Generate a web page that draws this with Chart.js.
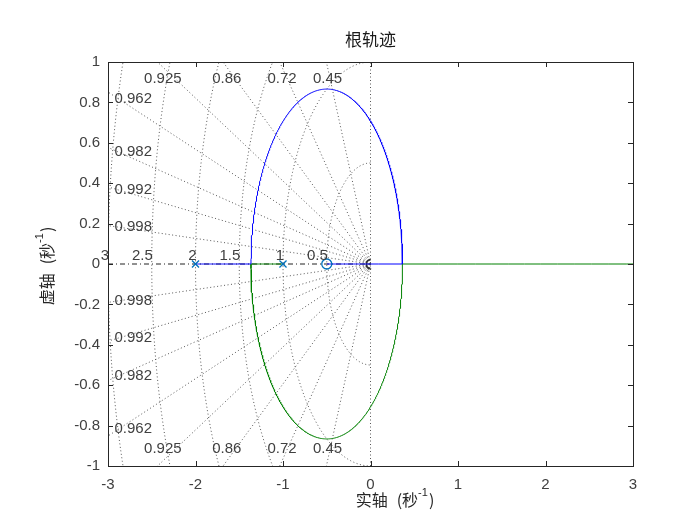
<!DOCTYPE html>
<html>
<head>
<meta charset="utf-8">
<script src="https://cdn.jsdelivr.net/npm/chart.js@4/dist/chart.umd.min.js"></script>
<style>
  html, body { margin: 0; padding: 0; background: #fff; }
  #wrap { width: 700px; height: 525px; }
</style>
</head>
<body>
<div id="wrap"><canvas id="rlocus"></canvas></div>
<script>
// open-loop system (poles x, zero o)
const poles = [-2, -1];
const zerosList = [-0.5];
// sgrid values
const zetaValues = [0.45, 0.72, 0.86, 0.925, 0.962, 0.982, 0.992, 0.998];
const wnValues = [0.5, 1, 1.5, 2, 2.5, 3];
// axis ticks
const xTicks = [-3, -2, -1, 0, 1, 2, 3];
const yTicks = [-1, -0.8, -0.6, -0.4, -0.2, 0, 0.2, 0.4, 0.6, 0.8, 1];

const numFont = "'Liberation Sans', Arial, sans-serif";
const cjkFont = "'Noto Sans CJK SC', 'Liberation Sans', sans-serif";
const textColor = "#404040";
const gridColor = "rgba(70,70,70,0.9)";

// closed loop (s-p1)(s-p2) + K(s-z) = 0, K negative (as in the picture)
const p1 = poles[0], p2 = poles[1], z1 = zerosList[0];
function rootsAt(K) {
  const b = -(p1 + p2) + K;
  const c = p1 * p2 - K * z1;
  const D = b * b - 4 * c;
  if (D >= 0) {
    const s = Math.sqrt(D);
    return { real: true, hi: (-b + s) / 2, lo: (-b - s) / 2 };
  }
  return { real: false, re: -b / 2, im: Math.sqrt(-D) / 2 };
}
// gains where the branches meet the real axis
const qb = -2 * (p1 + p2) + 4 * z1, qc = (p1 + p2) * (p1 + p2) - 4 * p1 * p2;
const kA = (-qb + Math.sqrt(qb * qb - 4 * qc)) / 2;   // breakaway
const kB = (-qb - Math.sqrt(qb * qb - 4 * qc)) / 2;   // break-in

const blueBranch = [], greenBranch = [];
for (let i = 0; i <= 60; i++) {
  const r = rootsAt(kA * i / 60);
  if (r.real) { blueBranch.push({ x: r.lo, y: 0 }); greenBranch.push({ x: r.hi, y: 0 }); }
}
for (let i = 0; i <= 600; i++) {
  const t = (1 - Math.cos(Math.PI * i / 600)) / 2;
  const r = rootsAt(kA + (kB - kA) * t);
  if (r.real) {
    const m = (r.hi + r.lo) / 2;
    blueBranch.push({ x: m, y: 0 }); greenBranch.push({ x: m, y: 0 });
  } else {
    blueBranch.push({ x: r.re, y: r.im }); greenBranch.push({ x: r.re, y: -r.im });
  }
}
for (let i = 1; i <= 200; i++) {
  const r = rootsAt(kB * Math.pow(1000, i / 200));
  if (r.real) { blueBranch.push({ x: r.lo, y: 0 }); greenBranch.push({ x: r.hi, y: 0 }); }
}

// sgrid lines
const dotted = { showLine: true, borderColor: gridColor, borderWidth: 1, borderDash: [1, 2.5], pointRadius: 0, order: 10 };
const gridSets = [];
zetaValues.forEach(z => {
  const w = Math.sqrt(1 - z * z);
  [1, -1].forEach(sg => gridSets.push(Object.assign({
    data: [{ x: 0, y: 0 }, { x: -z * 10, y: sg * w * 10 }]
  }, dotted)));
});
wnValues.forEach(wn => {
  const pts = [];
  for (let i = 0; i <= 180; i++) {
    const a = Math.PI / 2 + Math.PI * i / 180;
    pts.push({ x: wn * Math.cos(a), y: wn * Math.sin(a) });
  }
  gridSets.push(Object.assign({ data: pts }, dotted));
});
// imaginary axis (zeta = 0)
gridSets.push(Object.assign({ data: [{ x: 0, y: -1 }, { x: 0, y: 1 }] }, dotted));
// real axis (zeta = 1), dash-dot
gridSets.push({
  data: [{ x: -3, y: 0 }, { x: 0, y: 0 }], showLine: true, borderColor: "#222",
  borderWidth: 1, borderDash: [5, 3, 1, 3], pointRadius: 0, order: 9
});
// small dark arc at origin
const tinyArc = [];
for (let i = 0; i <= 40; i++) {
  const a = Math.PI / 2 + Math.PI * i / 40;
  tinyArc.push({ x: 0.05 * Math.cos(a), y: 0.022 * Math.sin(a) });
}
gridSets.push({
  data: tinyArc, showLine: true, borderColor: "#333", borderWidth: 1.6,
  pointRadius: 0, order: 9
});

const datasets = gridSets.concat([
  { data: greenBranch, showLine: true, borderColor: "#008000", borderWidth: 1, pointRadius: 0, order: 3 },
  { data: blueBranch, showLine: true, borderColor: "#0000ff", borderWidth: 1, pointRadius: 0, order: 2 },
  { data: poles.map(p => ({ x: p, y: 0 })), showLine: false, pointStyle: "crossRot",
    pointRadius: 5, borderColor: "#0072bd", borderWidth: 1.3, order: 0 },
  { data: zerosList.map(p => ({ x: p, y: 0 })), showLine: false, pointStyle: "circle",
    pointRadius: 5, borderColor: "#0072bd", backgroundColor: "rgba(0,0,0,0)", borderWidth: 1.3, order: 0 }
]);

// text labels, box, inward ticks, titles
const decor = {
  id: "decor",
  afterDatasetsDraw(chart) {
    const { ctx, scales: { x, y } } = chart;
    ctx.save();
    ctx.fillStyle = textColor;
    ctx.font = "15px " + numFont;
    // wn labels along the real axis
    ctx.textAlign = "right";
    ctx.textBaseline = "alphabetic";
    wnValues.forEach(wn => {
      ctx.fillText(String(wn), x.getPixelForValue(-wn) + 1, y.getPixelForValue(0) - 4);
    });
    // zeta labels
    ctx.textBaseline = "middle";
    zetaValues.forEach(z => {
      const sl = Math.sqrt(1 - z * z) / z;
      const xt = -0.975 / sl;
      if (xt > -2.7) {
        ctx.textAlign = "center";
        ctx.fillText(String(z), x.getPixelForValue(xt), y.getPixelForValue(0.917));
        ctx.fillText(String(z), x.getPixelForValue(xt), y.getPixelForValue(-0.917));
      } else {
        const xl = -2.88;
        ctx.textAlign = "left";
        ctx.fillText(String(z), x.getPixelForValue(xl) - 4, y.getPixelForValue(-xl * sl));
        ctx.fillText(String(z), x.getPixelForValue(xl) - 4, y.getPixelForValue(xl * sl));
      }
    });
    ctx.restore();
  },
  afterDraw(chart) {
    const { ctx, chartArea: a, scales: { x, y } } = chart;
    ctx.save();
    ctx.strokeStyle = "#262626";
    ctx.lineWidth = 1;
    ctx.strokeRect(Math.round(a.left) + 0.5, Math.round(a.top) + 0.5,
      Math.round(a.right - a.left), Math.round(a.bottom - a.top));
    ctx.beginPath();
    xTicks.forEach(v => {
      const px = Math.round(x.getPixelForValue(v)) + 0.5;
      ctx.moveTo(px, a.bottom); ctx.lineTo(px, a.bottom - 5);
      ctx.moveTo(px, a.top); ctx.lineTo(px, a.top + 5);
    });
    yTicks.forEach(v => {
      const py = Math.round(y.getPixelForValue(v)) + 0.5;
      ctx.moveTo(a.left, py); ctx.lineTo(a.left + 5, py);
      ctx.moveTo(a.right, py); ctx.lineTo(a.right - 5, py);
    });
    ctx.stroke();

    // title
    ctx.fillStyle = "#1a1a1a";
    ctx.textAlign = "center";
    ctx.textBaseline = "middle";
    ctx.font = "17px " + cjkFont;
    ctx.fillText("根轨迹", (a.left + a.right) / 2, 40);

    // axis label: "X轴 (秒^-1)"
    function drawAxisLabel(first, cx, cy) {
      const big = "16px " + cjkFont, small = "11px " + numFont;
      const parts = [
        { t: first + "轴", f: big, dy: 0, gap: 9 },
        { t: "(秒", f: big, dy: 0, gap: 0 },
        { t: "-1", f: small, dy: -7, gap: 1 },
        { t: ")", f: big, dy: 0, gap: 0 }
      ];
      let total = 0;
      parts.forEach(p => { ctx.font = p.f; p.w = ctx.measureText(p.t).width; total += p.w + p.gap; });
      let sx = cx - total / 2;
      ctx.textAlign = "left";
      ctx.textBaseline = "middle";
      ctx.fillStyle = "#262626";
      parts.forEach(p => {
        ctx.font = p.f;
        ctx.fillText(p.t, sx, cy + p.dy);
        sx += p.w + p.gap;
      });
    }
    drawAxisLabel("实", 395, 500);
    ctx.save();
    ctx.translate(47, 266);
    ctx.rotate(-Math.PI / 2);
    drawAxisLabel("虚", 0, 0);
    ctx.restore();
    ctx.restore();
  }
};

new Chart(document.getElementById("rlocus").getContext("2d"), {
  type: "scatter",
  data: { datasets },
  options: {
    animation: false,
    responsive: true,
    maintainAspectRatio: false,
    devicePixelRatio: 1,
    layout: { padding: { left: 0, right: 67, top: 62, bottom: 0 } },
    plugins: { legend: { display: false }, tooltip: { enabled: false } },
    scales: {
      x: {
        type: "linear", min: -3, max: 3,
        afterBuildTicks: s => { s.ticks = xTicks.map(v => ({ value: v })); },
        afterFit: s => { s.height = 59; },
        grid: { display: false, drawTicks: false },
        border: { display: false },
        ticks: { color: textColor, font: { size: 15, family: numFont }, padding: 10,
          maxRotation: 0, callback: v => String(v) }
      },
      y: {
        type: "linear", min: -1, max: 1,
        afterBuildTicks: s => { s.ticks = yTicks.map(v => ({ value: v })); },
        afterFit: s => { s.width = 108; },
        grid: { display: false, drawTicks: false },
        border: { display: false },
        ticks: { color: textColor, font: { size: 15, family: numFont }, padding: 8,
          callback: v => String(Math.round(v * 10) / 10) }
      }
    }
  },
  plugins: [decor]
});
</script>
</body>
</html>
